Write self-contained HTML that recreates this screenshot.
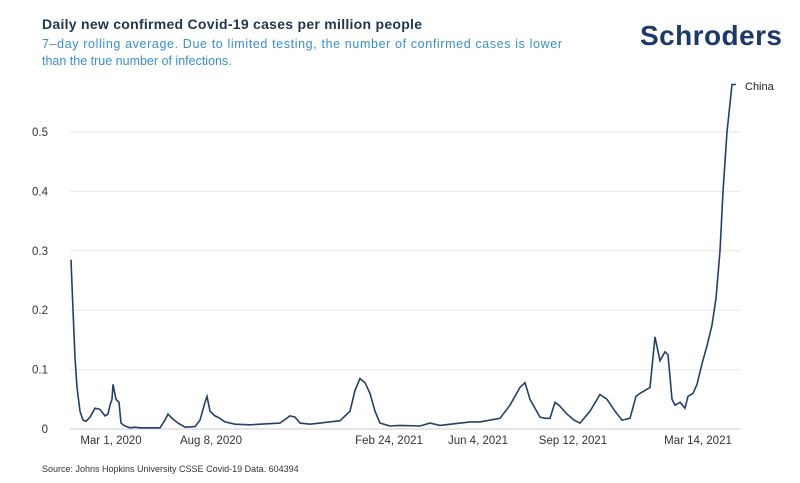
<!DOCTYPE html>
<html><head><meta charset="utf-8"><style>
body{margin:0;background:#fff;width:800px;height:483px;overflow:hidden;font-family:"Liberation Sans",sans-serif;}
svg{position:absolute;left:0;top:0}
</style></head><body>
<svg width="800" height="483">
<text x="42" y="29" font-size="14" font-weight="bold" fill="#1f3550" textLength="380">Daily new confirmed Covid-19 cases per million people</text>
<text x="42" y="48" font-size="12.5" fill="#3a8fc9" textLength="520">7–day rolling average. Due to limited testing, the number of confirmed cases is lower</text>
<text x="42" y="65" font-size="12.5" fill="#3a8fc9">than the true number of infections.</text>
<text x="640" y="45" font-size="28" font-weight="bold" fill="#1b3a6b" textLength="142">Schroders</text>
<g id="grid"></g><g id="yt"></g><g id="xt"></g>
<path id="line" fill="none" stroke="#24406a" stroke-width="1.6"/>
<text x="745" y="90" font-size="11" fill="#222">China</text>
<text x="42" y="472" font-size="9" fill="#333">Source: Johns Hopkins University CSSE Covid-19 Data. 604394</text>
</svg>
<script>
const yTicks=[0,0.1,0.2,0.3,0.4,0.5];
const xLabels=["Mar 1, 2020","Aug 8, 2020","Feb 24, 2021","Jun 4, 2021","Sep 12, 2021","Mar 14, 2021"];
const xLabelDays=[40,140,318,407,502,627];
const days=[0,2,4,6,9,12,15,19,24,29,34,37,39,41,42,45,48,50,54,59,64,69,89,94,97,101,107,114,124,129,134,136,139,144,149,154,164,179,189,209,219,224,229,239,249,269,279,284,289,294,299,304,309,319,329,349,359,369,399,409,429,439,449,454,459,469,474,479,484,488,496,503,509,519,529,536,544,551,559,565,569,574,579,584,589,594,597,601,604,609,614,617,622,626,631,636,641,645,649,652,656,661,665,667,668,669,670];
const vals=[0.285,0.2,0.12,0.07,0.03,0.015,0.013,0.02,0.035,0.033,0.022,0.025,0.04,0.05,0.075,0.05,0.045,0.01,0.005,0.002,0.003,0.002,0.002,0.015,0.025,0.018,0.01,0.003,0.004,0.015,0.045,0.055,0.03,0.022,0.018,0.012,0.008,0.007,0.008,0.01,0.022,0.02,0.01,0.008,0.01,0.014,0.03,0.065,0.085,0.078,0.06,0.03,0.01,0.005,0.006,0.005,0.01,0.006,0.012,0.012,0.018,0.04,0.07,0.078,0.05,0.02,0.018,0.018,0.045,0.04,0.025,0.015,0.01,0.03,0.058,0.05,0.03,0.015,0.018,0.055,0.06,0.065,0.07,0.155,0.115,0.13,0.125,0.05,0.04,0.045,0.035,0.055,0.06,0.075,0.11,0.14,0.175,0.22,0.3,0.4,0.5,0.58,0.58];
const X=d=>71+d*(670/670), Y=v=>429-v*594;
const ns="http://www.w3.org/2000/svg";
const g=document.getElementById('grid'),yt=document.getElementById('yt'),xt=document.getElementById('xt');
yTicks.forEach(t=>{
 const l=document.createElementNS(ns,'line');
 l.setAttribute('x1',70);l.setAttribute('x2',740);l.setAttribute('y1',Y(t));l.setAttribute('y2',Y(t));
 l.setAttribute('stroke',t===0?'#ccc':'#e6e6e6');
 
 
 g.appendChild(l);
 const tx=document.createElementNS(ns,'text');
 tx.setAttribute('x',48);tx.setAttribute('y',Y(t)+4);tx.setAttribute('font-size','11.5');tx.setAttribute('fill','#333');tx.setAttribute('text-anchor','end');
 tx.textContent=t===0?'0':t;
 
 
 yt.appendChild(tx);
});
xLabels.forEach((s,i)=>{
 const tx=document.createElementNS(ns,'text');
 tx.setAttribute('x',X(xLabelDays[i]));tx.setAttribute('y',444);tx.setAttribute('font-size','11.5');tx.setAttribute('fill','#333');tx.setAttribute('text-anchor','middle');
 tx.textContent=s;
 
 
 xt.appendChild(tx);
});
document.getElementById('line').setAttribute('d',days.map((d,i)=>(i?'L':'M')+X(d).toFixed(1)+','+Y(vals[i]).toFixed(1)).join(''));
</script>
</body></html>
